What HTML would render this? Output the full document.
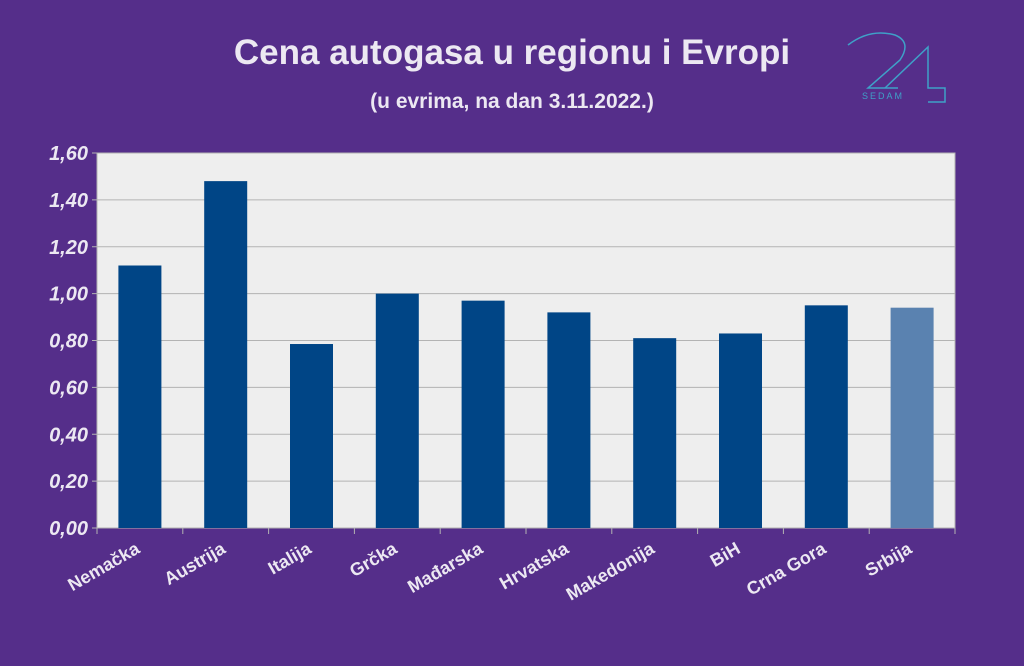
<!DOCTYPE html>
<html><head><meta charset="utf-8"><style>
body{margin:0;background:#552e8a;}
svg{display:block;font-family:"Liberation Sans",sans-serif;}
</style></head><body>
<svg width="1024" height="666">
<rect x="0" y="0" width="1024" height="666" fill="#552e8a"/>
<text x="512" y="64" text-anchor="middle" font-size="35" font-weight="bold" fill="#ece8f2">Cena autogasa u regionu i Evropi</text>
<text x="512" y="108" text-anchor="middle" font-size="21" font-weight="bold" fill="#ece8f2">(u evrima, na dan 3.11.2022.)</text>
<g fill="none" stroke="#3fa0c8" stroke-width="1.5">
<path d="M848 45 Q870 28 895 35 Q912 42 900 60 L868 88 L898 88"/>
<path d="M885 88 L928 47 L928 88 L945 88 L945 102 L928 102"/>
<text x="862" y="99" font-size="9" fill="#3fa0c8" stroke="none" letter-spacing="2">SEDAM</text>
</g>
<g id="plot"></g>
</svg>
<script>
const categories=["Nemačka","Austrija","Italija","Grčka","Mađarska","Hrvatska","Makedonija","BiH","Crna Gora","Srbija"];
const values=[1.12,1.48,0.785,1.00,0.97,0.92,0.81,0.83,0.95,0.94];
const tickLabels=["0,00","0,20","0,40","0,60","0,80","1,00","1,20","1,40","1,60"];
const tickValues=[0,0.2,0.4,0.6,0.8,1.0,1.2,1.4,1.6];
const NS="http://www.w3.org/2000/svg";
const L=97,R=955,T=153,B=528,yMax=1.6;
const y=v=>B-(v/yMax)*(B-T);
const bw=(R-L)/categories.length;
const x=i=>L+bw*i;
const g=document.getElementById('plot');
function mk(t,a){const e=document.createElementNS(NS,t);for(const k in a)e.setAttribute(k,a[k]);g.appendChild(e);return e;}
let e=mk('rect',{x:L,y:T,width:R-L,height:B-T,fill:'#eeeeee',stroke:'#b3b3b3'});


tickValues.forEach((v,i)=>{
 const l=mk('line',{x1:L-5,x2:R,y1:y(v),y2:y(v),stroke:'#b3b3b3','stroke-width':1});
 
 
 const t=mk('text',{x:L-9,y:y(v)+7,'text-anchor':'end','font-size':20,'font-weight':'bold','font-style':'italic',fill:'#ece8f2'});
 t.textContent=tickLabels[i];
 
 
});
for(let i=0;i<=categories.length;i++){
 const l=mk('line',{x1:x(i),x2:x(i),y1:B,y2:B+6,stroke:'#b3b3b3'});
 
 
}
categories.forEach((c,i)=>{
 const cx=x(i)+bw/2;
 const r=mk('rect',{x:cx-21.5,y:y(values[i]),width:43,height:B-y(values[i]),fill:i==categories.length-1?'#5a82b0':'#004586'});
 
 
 const ax=cx+1, ay=B+24;
 const t=mk('text',{x:ax,y:ay,'text-anchor':'end','font-size':18,'font-weight':'bold',fill:'#ece8f2',transform:`rotate(-30 ${ax} ${ay})`});
 t.textContent=c;
 
 
});
</script>
</body></html>
